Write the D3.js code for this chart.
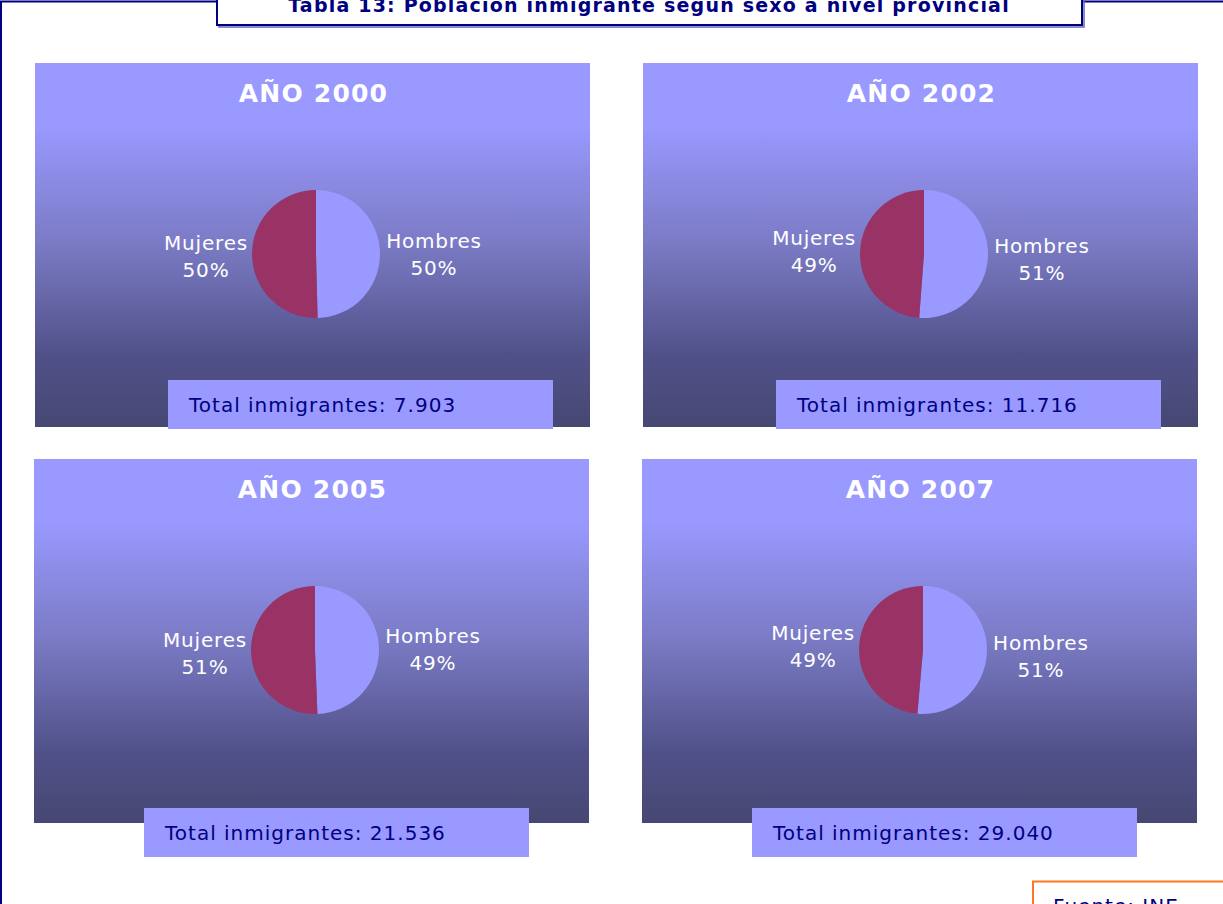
<!DOCTYPE html>
<html>
<head>
<meta charset="utf-8">
<script src="https://cdn.jsdelivr.net/npm/d3@7"></script>
<style>
  html, body { margin: 0; padding: 0; background: #ffffff; overflow: hidden; }
  svg { display: block; }
</style>
</head>
<body>
<svg id="chart" width="1223" height="904"></svg>
<script>
// ---- Data ----
const years = ["2000", "2002", "2005", "2007"];
const categories = ["Hombres", "Mujeres"];
const hombresPct = [49.6, 51.2, 49.4, 51.4];
const mujeresPct = [50.4, 48.8, 50.6, 48.6];
const totals = ["7.903", "11.716", "21.536", "29.040"];
const titleText = "Tabla 13: Población inmigrante según sexo a nivel provincial";
const sourceText = "Fuente: INE";

// ---- Layout ----
const W = 1223, H = 904;
const svg = d3.select("#chart");
const navy = "#000080";
const font = "DejaVu Sans, Verdana, sans-serif";
const colors = d3.scaleOrdinal().domain(categories).range(["#9999FF", "#993366"]);

const defs = svg.append("defs");
const grad = defs.append("linearGradient").attr("id", "bg").attr("x1", 0).attr("y1", 0).attr("x2", 0).attr("y2", 1);
[[0, "#9999FF"], [0.17, "#9999FF"], [0.5, "#7a7ac4"], [0.8, "#51518a"], [1, "#474772"]]
  .forEach(([o, c]) => grad.append("stop").attr("offset", o).attr("stop-color", c));

// outer frame
svg.append("path")
  .attr("d", `M1,${H + 5} L1,1.5 L${W + 5},1.5`)
  .attr("fill", "none").attr("stroke", navy).attr("stroke-width", 2);

// title box (shadow + box)
svg.append("rect").attr("x", 219).attr("y", -20).attr("width", 865).attr("height", 47)
  .attr("fill", "none").attr("stroke", "#6666bb").attr("stroke-width", 1.5);
svg.append("rect").attr("x", 217).attr("y", -20).attr("width", 865).attr("height", 45)
  .attr("fill", "#ffffff").attr("stroke", navy).attr("stroke-width", 2);
svg.append("text").attr("x", 649).attr("y", 12)
  .attr("text-anchor", "middle")
  .attr("font-family", font)
  .attr("font-weight", "bold").attr("font-size", 19).attr("letter-spacing", 1.2).attr("fill", navy)
  .text(titleText);

// panels
const panels = [
  { x: 35, y: 63, bx: 168, by: 380 },
  { x: 643, y: 63, bx: 776, by: 380 },
  { x: 34, y: 459, bx: 144, by: 808 },
  { x: 642, y: 459, bx: 752, by: 808 }
];
const pw = 555, ph = 364;
const r = 64;
const pie = d3.pie().sort(null).value(d => d.v);
const arc = d3.arc().innerRadius(0).outerRadius(r);
const labelArc = d3.arc().innerRadius(114).outerRadius(114);

years.forEach((yr, i) => {
  const p = panels[i];
  const g = svg.append("g");
  g.append("rect").attr("x", p.x).attr("y", p.y).attr("width", pw).attr("height", ph)
    .attr("fill", "url(#bg)");
  g.append("text").attr("x", p.x + pw / 2 + 1).attr("y", p.y + 39)
    .attr("text-anchor", "middle")
    .attr("font-family", font)
    .attr("font-weight", "bold").attr("font-size", 25).attr("letter-spacing", 1.2).attr("fill", "#ffffff")
    .text("AÑO " + yr);

  const cx = p.x + 281, cy = p.y + 191;
  const data = [
    { k: categories[0], v: hombresPct[i] },
    { k: categories[1], v: mujeresPct[i] }
  ];
  const arcs = pie(data);
  const pg = g.append("g").attr("transform", `translate(${cx},${cy})`);
  pg.selectAll("path.slice").data(arcs).join("path")
    .attr("class", "slice")
    .attr("d", arc)
    .attr("fill", d => colors(d.data.k));

  const lbl = pg.selectAll("text.lbl").data(arcs).join("text")
    .attr("class", "lbl")
    .attr("text-anchor", "middle")
    .attr("font-family", font)
    .attr("font-size", 20).attr("letter-spacing", 0.8).attr("fill", "#ffffff")
    .attr("transform", d => {
      const c = labelArc.centroid(d);
      return `translate(${c[0] + 4},${c[1]})`;
    });
  lbl.append("tspan").attr("x", 0).attr("y", -5).text(d => d.data.k);
  lbl.append("tspan").attr("x", 0).attr("y", 22).text(d => Math.round(d.data.v) + "%");

  // total box
  g.append("rect").attr("x", p.bx).attr("y", p.by).attr("width", 385).attr("height", 49)
    .attr("fill", "#9999FF");
  g.append("text").attr("x", p.bx + 21).attr("y", p.by + 32)
    .attr("font-family", font)
    .attr("font-size", 20).attr("letter-spacing", 1).attr("fill", navy)
    .text("Total inmigrantes: " + totals[i]);
});

// source box
svg.append("rect").attr("x", 1033).attr("y", 881.5).attr("width", 220).attr("height", 60)
  .attr("fill", "#ffffff").attr("stroke", "#FF7722").attr("stroke-width", 2);
svg.append("text").attr("x", 1053).attr("y", 913)
  .attr("font-family", font)
  .attr("font-size", 20).attr("letter-spacing", 1).attr("fill", navy)
  .text(sourceText);
</script>
</body>
</html>
